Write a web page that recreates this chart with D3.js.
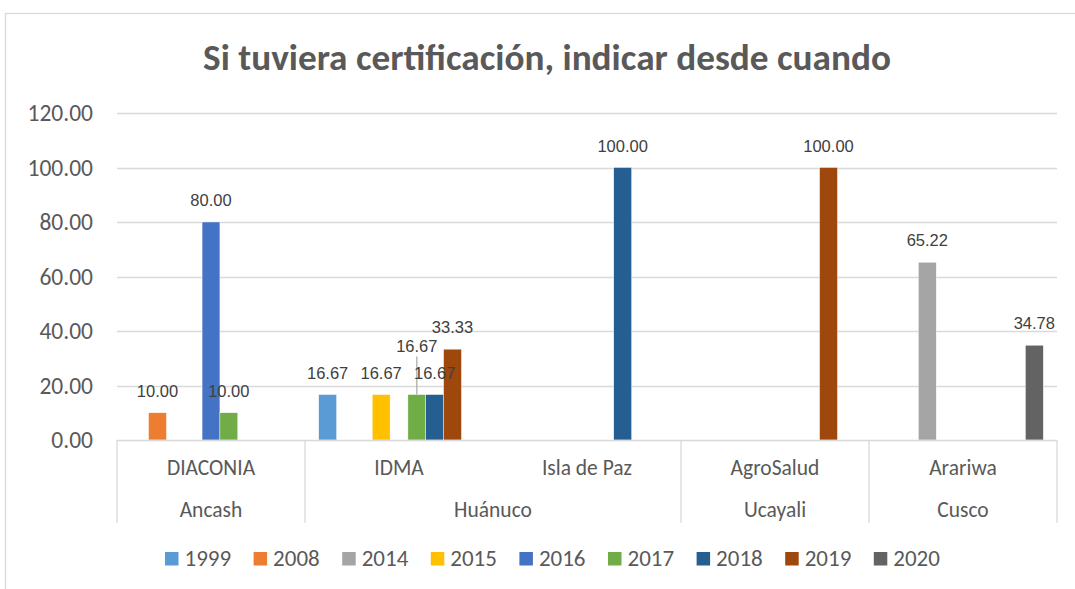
<!DOCTYPE html>
<html>
<head>
<meta charset="utf-8">
<script src="https://cdn.jsdelivr.net/npm/d3@7"></script>
<style>
  html, body { margin: 0; padding: 0; background: #ffffff; }
  svg { display: block; }
</style>
</head>
<body>
<svg id="chart" width="1075" height="589"></svg>
<script>
// ---- data ----
const titleText = "Si tuviera certificación, indicar desde cuando";
const categories = ["DIACONIA", "IDMA", "Isla de Paz", "AgroSalud", "Arariwa"];
const regions = ["Ancash", "Huánuco", "Huánuco", "Ucayali", "Cusco"];
const regionGroups = ["Ancash", "Huánuco", "Ucayali", "Cusco"];
const years = ["1999", "2008", "2014", "2015", "2016", "2017", "2018", "2019", "2020"];
const colors = ["#5B9BD5", "#ED7D31", "#A5A5A5", "#FFC000", "#4472C4", "#70AD47", "#255E91", "#9E480E", "#636363"];
// values per year, in category order (null = no bar)
const v1999 = [null, 16.67, null, null, null];
const v2008 = [10.00, null, null, null, null];
const v2014 = [null, null, null, null, 65.22];
const v2015 = [null, 16.67, null, null, null];
const v2016 = [80.00, null, null, null, null];
const v2017 = [10.00, 16.67, null, null, null];
const v2018 = [null, 16.67, 100.00, null, null];
const v2019 = [null, 33.33, null, 100.00, null];
const v2020 = [null, null, null, null, 34.78];
const seriesValues = [v1999, v2008, v2014, v2015, v2016, v2017, v2018, v2019, v2020];
const yTicks = [0, 20, 40, 60, 80, 100, 120];

// ---- layout ----
const svg = d3.select("#chart");
const W = 1075, H = 589;
const plot = { left: 117, right: 1057, top: 113, bottom: 440 };
const gridColor = "#d9d9d9";
const textColor = "#595959";
const uiFont = "Carlito, Calibri, Lato, 'Open Sans', sans-serif";
const labelFont = "'Liberation Sans', Arial, sans-serif";

// chart border
svg.append("rect")
  .attr("x", 5.5).attr("y", 13.5)
  .attr("width", W + 10).attr("height", H + 10)
  .attr("fill", "#fff").attr("stroke", gridColor).attr("stroke-width", 1.3);

// title
const title = svg.append("text")
  .attr("x", 547).attr("y", 70)
  .attr("text-anchor", "middle")
  .attr("font-family", uiFont)
  .attr("font-weight", "bold")
  .attr("font-size", 30)
  .attr("fill", textColor)
  .text(titleText);
// fit title to reference width
const tw = title.node().getComputedTextLength();
title.attr("font-size", 30 * 688 / tw);

// scales
const y = d3.scaleLinear().domain([0, 120]).range([plot.bottom, plot.top]);
const x0 = d3.scaleBand().domain(categories).range([plot.left, plot.right]).paddingInner(0).paddingOuter(0);
const x1 = d3.scaleBand().domain(years).range([0, x0.bandwidth()]).paddingInner(0).paddingOuter(0.77);

// gridlines
svg.append("g").selectAll("line")
  .data(yTicks.filter(d => d > 0))
  .join("line")
  .attr("x1", plot.left).attr("x2", plot.right)
  .attr("y1", d => Math.round(y(d)) + 0.5).attr("y2", d => Math.round(y(d)) + 0.5)
  .attr("stroke", gridColor).attr("stroke-width", 1.3);

// y axis labels
const yAxis = d3.axisLeft(y).tickValues(yTicks).tickFormat(d3.format(".2f")).tickSize(0).tickPadding(0);
const yg = svg.append("g").attr("transform", `translate(93,0)`).call(yAxis);
yg.select(".domain").remove();
yg.selectAll("text")
  .attr("font-family", uiFont).attr("font-size", 23.5).attr("fill", textColor);

// bars
const barData = [];
years.forEach((yr, si) => {
  categories.forEach((cat, ci) => {
    const v = seriesValues[si][ci];
    if (v !== null) barData.push({ year: yr, cat, value: v, color: colors[si] });
  });
});
svg.append("g").selectAll("rect")
  .data(barData)
  .join("rect")
  .attr("x", d => x0(d.cat) + x1(d.year))
  .attr("width", x1.bandwidth())
  .attr("y", d => y(d.value))
  .attr("height", d => y(0) - y(d.value))
  .attr("fill", d => d.color)
  .attr("stroke", "#ffffff").attr("stroke-width", 0.4);

// category axis line and separators
const axisG = svg.append("g");
axisG.append("line")
  .attr("x1", plot.left).attr("x2", plot.right)
  .attr("y1", plot.bottom + 0.5).attr("y2", plot.bottom + 0.5)
  .attr("stroke", gridColor).attr("stroke-width", 1.3);
// group boundaries
const boundaries = [];
regionGroups.forEach((g) => {
  const idx = regions.indexOf(g);
  boundaries.push(x0(categories[idx]));
});
boundaries.push(plot.right);
axisG.selectAll("line.sep")
  .data(boundaries)
  .join("line").attr("class", "sep")
  .attr("x1", d => d).attr("x2", d => d)
  .attr("y1", plot.bottom).attr("y2", 523)
  .attr("stroke", gridColor).attr("stroke-width", 1.3);

// inner category labels
svg.append("g").selectAll("text")
  .data(categories)
  .join("text")
  .attr("x", d => x0(d) + x0.bandwidth() / 2)
  .attr("y", 474.5)
  .attr("text-anchor", "middle")
  .attr("font-family", uiFont).attr("font-size", 21.5).attr("fill", textColor)
  .text(d => d);

// outer group labels
const groupInfo = regionGroups.map(g => {
  const cats = categories.filter((c, i) => regions[i] === g);
  const x1g = x0(cats[0]);
  const x2g = x0(cats[cats.length - 1]) + x0.bandwidth();
  return { name: g, cx: (x1g + x2g) / 2 };
});
svg.append("g").selectAll("text")
  .data(groupInfo)
  .join("text")
  .attr("x", d => d.cx)
  .attr("y", 516.5)
  .attr("text-anchor", "middle")
  .attr("font-family", uiFont).attr("font-size", 21.5).attr("fill", textColor)
  .text(d => d.name);

// data labels
const fmt = d3.format(".2f");
const labelG = svg.append("g");
barData.forEach(d => {
  const cx = x0(d.cat) + x1(d.year) + x1.bandwidth() / 2;
  const top = y(d.value);
  let ly = top - 16;
  // the overlapping IDMA 2017 label is lifted with a leader line
  if (d.cat === "IDMA" && d.year === "2017") {
    ly = top - 43;
    labelG.append("line")
      .attr("x1", cx).attr("x2", cx)
      .attr("y1", ly + 5).attr("y2", top)
      .attr("stroke", "#a6a6a6").attr("stroke-width", 1.2);
  }
  labelG.append("text")
    .attr("x", cx).attr("y", ly)
    .attr("text-anchor", "middle")
    .attr("font-family", labelFont).attr("font-size", 16.5).attr("fill", "#404040")
    .text(fmt(d.value));
});

// legend
const legend = svg.append("g");
const legendStart = 165, legendStep = 88.6, legendY = 552;
years.forEach((yr, i) => {
  const lx = legendStart + i * legendStep;
  legend.append("rect")
    .attr("x", lx).attr("y", legendY).attr("width", 13.5).attr("height", 13.5)
    .attr("fill", colors[i]);
  legend.append("text")
    .attr("x", lx + 19.5).attr("y", legendY + 14)
    .attr("font-family", uiFont).attr("font-size", 23).attr("fill", textColor)
    .text(yr);
});
</script>
</body>
</html>
